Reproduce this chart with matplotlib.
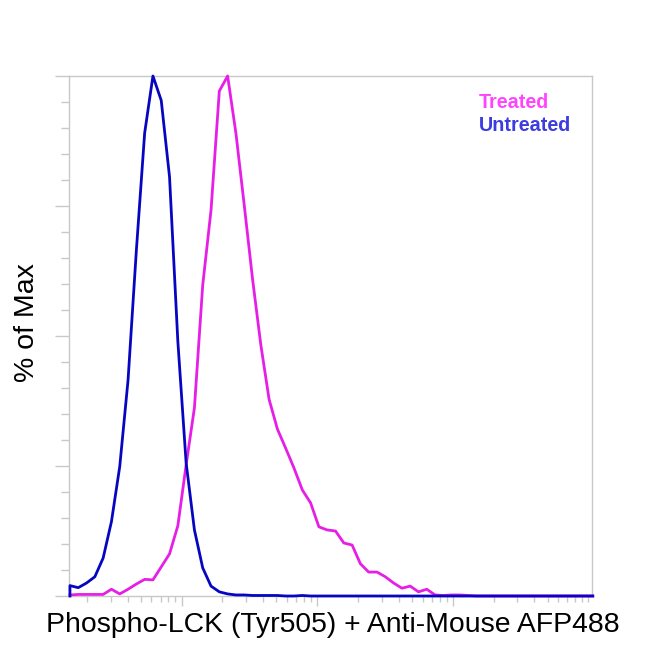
import matplotlib
matplotlib.use("Agg")
import matplotlib.pyplot as plt
import matplotlib.ticker as mticker
import numpy as np

plt.rcParams['font.family'] = ['Liberation Sans', 'DejaVu Sans']

# histogram bins: log10 of bin centre (evenly spaced in log space)
bin_start = 1.177
bin_step = 0.0612
n_bins = 64

# % of max per bin
untreated = [2.0, 1.6, 2.5, 3.7, 7.3, 14.3, 24.9, 41.5, 66.4, 89.0,
             100.0, 95.3, 80.6, 49.0, 25.6, 12.7, 5.4, 1.9, 0.8, 0.4,
             0.2, 0.2, 0.1, 0.1, 0.1, 0.1, 0.0, 0.0, 0.1, 0.0,
             0.0, 0.0, 0.0, 0.0, 0.0, 0.0, 0.0, 0.0, 0.0, 0.0,
             0.0, 0.0, 0.0, 0.0, 0.0, 0.0, 0.0, 0.0, 0.0, 0.0,
             0.0, 0.0, 0.0, 0.0, 0.0, 0.0, 0.0, 0.0, 0.0, 0.0,
             0.0, 0.0, 0.0, 0.0]
treated = [0.2, 0.3, 0.3, 0.3, 0.3, 1.3, 0.4, 1.3, 2.3, 3.2,
           3.1, 5.6, 8.1, 13.5, 25.2, 36.2, 59.8, 74.2, 97.1, 100.0,
           89.0, 75.2, 61.0, 48.3, 37.8, 32.1, 28.4, 24.6, 20.4, 17.9,
           13.3, 12.7, 12.5, 10.2, 9.8, 6.2, 4.6, 4.6, 3.7, 2.5,
           1.5, 1.9, 0.8, 1.3, 0.2, 0.1, 0.2, 0.2, 0.1, 0.0,
           0.0, 0.0, 0.0, 0.0, 0.0, 0.0, 0.0, 0.0, 0.0, 0.0,
           0.0, 0.0, 0.0, 0.0]

x_label = "Phospho-LCK (Tyr505) + Anti-Mouse AFP488"
y_label = "% of Max"
legend_names = ["Treated", "Untreated"]

x = 10 ** (bin_start + bin_step * np.arange(n_bins))

fig = plt.figure(figsize=(6.5, 6.5), dpi=100)
ax = fig.add_axes([69 / 650, 1 - 596 / 650, 523 / 650, 520 / 650])

ax.plot(x, treated, color="#e61ee6", lw=2.0, clip_on=False, zorder=3)
ax.plot(np.r_[x[0], x], np.r_[0, untreated], color="#0606c2", lw=2.0,
        clip_on=False, zorder=4)

ax.set_xscale("log")
ax.set_xlim(10 ** 1.17, 10 ** 5.027)
ax.set_ylim(0, 100)

ax.xaxis.set_major_locator(mticker.FixedLocator([1e2, 1e3, 1e4]))
minors = [m * 10 ** d for d in range(1, 5) for m in range(2, 10)] + [1e5]
ax.xaxis.set_minor_locator(mticker.FixedLocator(minors))
ax.yaxis.set_major_locator(mticker.MultipleLocator(25))
ax.yaxis.set_minor_locator(mticker.MultipleLocator(5))
ax.xaxis.set_major_formatter(mticker.NullFormatter())
ax.xaxis.set_minor_formatter(mticker.NullFormatter())
ax.yaxis.set_major_formatter(mticker.NullFormatter())

grey = "#c8c8c8"
for s in ax.spines.values():
    s.set_color(grey)
    s.set_linewidth(1.0)
ax.tick_params(which="both", color=grey, width=1.0, direction="out")
ax.tick_params(axis="x", which="major", length=7)
ax.tick_params(axis="x", which="minor", length=4.3)
ax.tick_params(axis="y", which="major", length=10)
ax.tick_params(axis="y", which="minor", length=5.8)

fig.text(333 / 650, 1 - 632 / 650, x_label, fontsize=20.4, ha="center",
         va="baseline", color="black")
fig.text(27 / 650, 1 - 323 / 650, y_label, fontsize=20.5, ha="center",
         va="center", rotation=90, color="black")

fig.text(479 / 650, 1 - 107.7 / 650, legend_names[0], fontsize=14.2,
         fontweight="bold", color="#ff44ff", va="baseline")
fig.text(479 / 650, 1 - 131 / 650, legend_names[1], fontsize=14.2,
         fontweight="bold", color="#3c3ce0", va="baseline")

fig.savefig("out.png", dpi=100)
